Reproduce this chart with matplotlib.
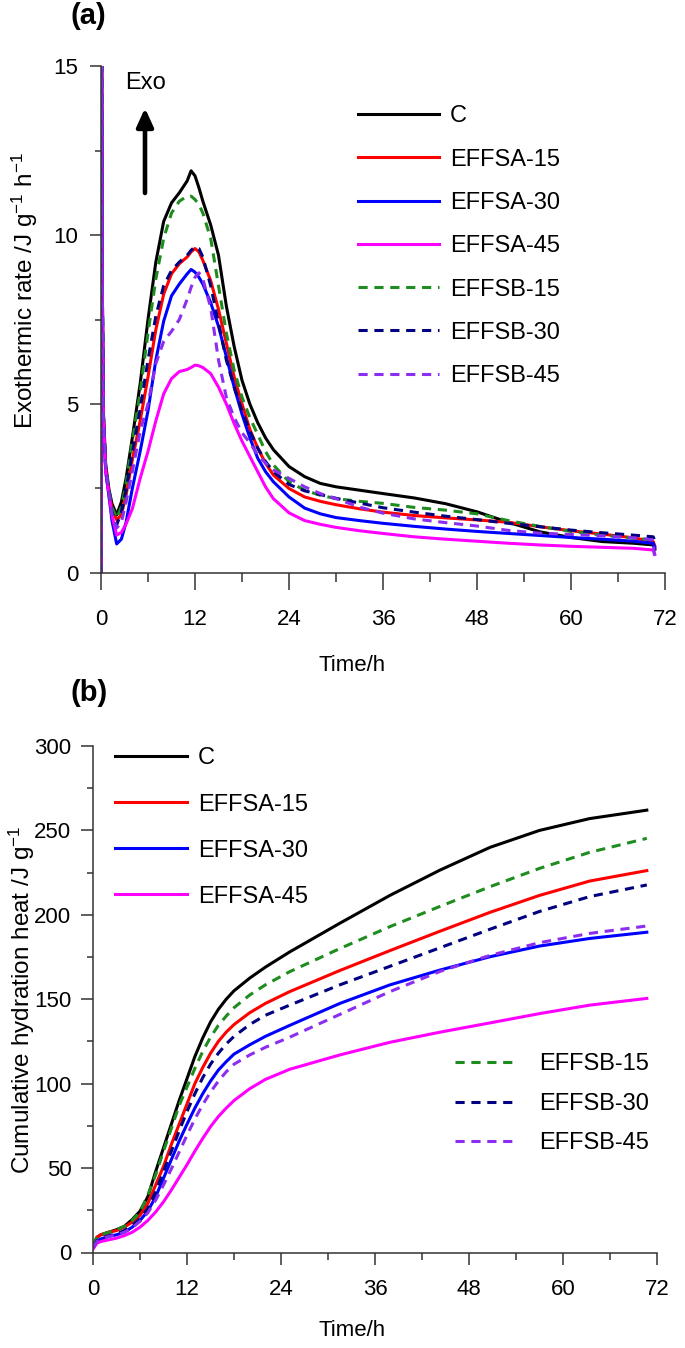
import matplotlib
matplotlib.use("Agg")
import matplotlib.pyplot as plt
from matplotlib.ticker import MultipleLocator

plt.rcParams['font.family'] = ['Liberation Sans', 'DejaVu Sans']
plt.rcParams['mathtext.fontset'] = 'custom'
plt.rcParams['mathtext.rm'] = 'Liberation Sans'
plt.rcParams['mathtext.it'] = 'Liberation Sans:italic'
plt.rcParams['mathtext.default'] = 'regular'

labels = ['C', 'EFFSA-15', 'EFFSA-30', 'EFFSA-45', 'EFFSB-15', 'EFFSB-30', 'EFFSB-45']
colors = ['black', '#ff0000', '#0000ff', '#ff00ff', '#1e8c1e', '#000080', '#8c2ef0']
styles = ['-', '-', '-', '-', '--', '--', '--']

# (a) exothermic rate, J/(g h)
time_a = [0, 0.05, 0.15, 0.3, 0.6, 1.0, 1.4, 2.0, 2.6, 3.2,
          4, 5, 6, 7, 8, 9, 10, 11, 11.5, 12,
          12.5, 13, 14, 15, 16, 17, 18, 19, 20, 21,
          22, 24, 26, 28, 30, 33, 36, 40, 44, 48,
          52, 56, 60, 64, 68, 70.5, 70.7]
rate_c = [0, 20, 9, 4.8, 3.2, 2.5, 2.05, 1.72, 2.1, 2.8,
          4.0, 5.6, 7.5, 9.2, 10.4, 10.95, 11.25, 11.6, 11.9, 11.75,
          11.4, 11.0, 10.3, 9.4, 7.9, 6.7, 5.7, 5.0, 4.45, 4.0,
          3.65, 3.15, 2.85, 2.65, 2.55, 2.45, 2.35, 2.22, 2.05, 1.81,
          1.5, 1.22, 1.05, 0.93, 0.88, 0.83, 0.7]
rate_a15 = [0, 20, 9, 4.7, 3.1, 2.4, 1.9, 1.57, 1.72, 2.3,
            3.35, 4.5, 5.8, 7.2, 8.25, 8.85, 9.15, 9.35, 9.5, 9.6,
            9.5, 9.25, 8.65, 7.8, 6.8, 5.8, 5.0, 4.25, 3.7, 3.25,
            2.9, 2.5, 2.25, 2.12, 2.02, 1.9, 1.8, 1.7, 1.63, 1.57,
            1.5, 1.37, 1.25, 1.15, 1.04, 0.93, 0.8]
rate_a30 = [0, 20, 9, 4.6, 3.0, 2.3, 1.55, 0.86, 1.0, 1.5,
            2.5, 3.6, 4.8, 6.3, 7.45, 8.2, 8.55, 8.85, 8.98, 8.9,
            8.75, 8.55, 8.0, 7.3, 6.4, 5.5, 4.7, 4.0, 3.4, 3.0,
            2.7, 2.25, 1.92, 1.75, 1.64, 1.55, 1.47, 1.38, 1.3, 1.23,
            1.17, 1.11, 1.05, 1.0, 0.94, 0.88, 0.75]
rate_a45 = [0, 20, 9, 4.6, 3.0, 2.35, 1.7, 1.12, 1.2, 1.45,
            1.9, 2.8, 3.6, 4.5, 5.3, 5.75, 5.96, 6.02, 6.08, 6.15,
            6.13, 6.08, 5.9, 5.5, 5.0, 4.42, 3.9, 3.45, 3.0, 2.55,
            2.2, 1.78, 1.55, 1.44, 1.35, 1.25, 1.17, 1.07, 1.0, 0.94,
            0.88, 0.83, 0.79, 0.76, 0.73, 0.68, 0.55]
rate_b15 = [0, 20, 9, 4.7, 3.1, 2.45, 1.95, 1.62, 1.95, 2.65,
            3.9, 5.35, 7.1, 8.7, 9.9, 10.65, 11.0, 11.15, 11.15, 11.05,
            10.9, 10.65, 9.9, 8.5, 7.1, 6.0, 5.2, 4.6, 4.1, 3.6,
            3.2, 2.7, 2.45, 2.3, 2.2, 2.12, 2.06, 1.94, 1.86, 1.75,
            1.55, 1.38, 1.23, 1.12, 1.03, 0.98, 0.85]
rate_b30 = [0, 20, 9, 4.7, 3.1, 2.4, 1.8, 1.42, 1.8, 2.45,
            3.55, 4.85, 6.3, 7.6, 8.5, 8.95, 9.2, 9.4, 9.55, 9.65,
            9.6, 9.35, 8.5, 7.4, 6.3, 5.5, 4.8, 4.2, 3.7, 3.3,
            3.0, 2.62, 2.43, 2.32, 2.21, 2.07, 1.93, 1.8, 1.68, 1.58,
            1.47, 1.37, 1.27, 1.19, 1.12, 1.07, 0.95]
rate_b45 = [0, 20, 9, 4.7, 3.1, 2.4, 1.75, 1.33, 1.5, 2.1,
            3.0, 4.2, 5.0, 6.2, 6.85, 7.15, 7.5, 8.1, 8.45, 8.75,
            8.88, 8.7, 7.85, 6.3, 5.2, 4.6, 4.15, 3.85, 3.5, 3.25,
            3.05, 2.8, 2.55, 2.35, 2.2, 1.95, 1.77, 1.6, 1.49, 1.39,
            1.26, 1.18, 1.14, 1.1, 1.04, 0.98, 0.33]

# (b) cumulative hydration heat, J/g
time_b = [0, 0.5, 1, 2, 3, 4, 5, 6, 7, 8, 9, 10, 11, 12, 13, 14, 15, 16, 17, 18,
          20, 22, 25.1, 31.5, 37.9, 44.3, 50.7, 57.0, 63.4, 70.7]
heat_c = [4, 9, 10.5, 12, 13.5, 15.5, 19.5, 24.5, 33, 48, 62, 76, 90, 103, 116, 127, 136.5, 144, 150, 155,
          162.5, 169, 178, 195, 211.5, 226.5, 240, 250, 257, 262]
heat_a15 = [4, 9, 10.5, 12, 13, 15, 18, 22, 29, 40, 51, 64, 76, 88, 100, 109.5, 118, 125, 130.5, 135,
            142, 147.5, 154.5, 167, 178.8, 190.3, 201.5, 211.5, 220, 226.2]
heat_a30 = [3, 7, 8, 9.5, 10.5, 12, 15, 19, 24.5, 33, 44, 55, 66, 76, 85.5, 94, 101.5, 108, 113, 117.5,
            123, 128, 134.5, 147.5, 158.5, 167.3, 175.2, 181.5, 186, 189.7]
heat_a45 = [2, 5.5, 6.5, 7.5, 8.5, 10, 12, 15, 19, 24, 30, 37, 44.5, 52, 60, 67.5, 74.5, 80.5, 85.5, 90,
            97, 102.5, 108.5, 117, 124.5, 130.5, 136, 141.5, 146.5, 150.5]
heat_b15 = [4, 9, 10.5, 12, 13.5, 15.5, 19, 24, 34, 46, 60, 73.5, 87, 98, 109, 119, 127.5, 134.5, 140, 145,
            152.5, 158.5, 166.3, 180, 193, 205, 216.7, 227.5, 237, 245.3]
heat_b30 = [3, 7, 8.5, 10, 11, 13, 16, 20, 26, 36, 48, 60, 72, 83.5, 94, 103.5, 111.5, 118, 123.5, 128,
            135, 140.5, 146.5, 158.5, 169.5, 180.5, 191.5, 202, 210.8, 217.7]
heat_b45 = [3, 6.5, 8, 9.5, 10.5, 12, 14.5, 18.5, 23.5, 31, 40, 49.5, 59.5, 69.5, 79, 87.5, 95, 101.5, 107, 111.5,
            117, 121.5, 127.5, 141, 154.5, 166.5, 176, 183.5, 189, 193.4]

rates = [rate_c, rate_a15, rate_a30, rate_a45, rate_b15, rate_b30, rate_b45]
heats = [heat_c, heat_a15, heat_a30, heat_a45, heat_b15, heat_b30, heat_b45]

W, H = 685, 1348
fig = plt.figure(figsize=(W / 100, H / 100), dpi=100)
fs = 16
lfs = 17
yfs = 17.5


def style_axes(ax, xlen, xminlen, ylen, yminlen, xpad, ypad):
    for s in ['top', 'right']:
        ax.spines[s].set_visible(False)
    for s in ['left', 'bottom']:
        ax.spines[s].set_linewidth(1.1)
        ax.spines[s].set_color('#333333')
    ax.set_xlim(0, 72)
    ax.xaxis.set_major_locator(MultipleLocator(12))
    ax.xaxis.set_minor_locator(MultipleLocator(6))
    ax.tick_params(axis='x', which='major', length=xlen, width=1.1, color='#333333',
                   labelsize=fs, pad=xpad)
    ax.tick_params(axis='x', which='minor', length=xminlen, width=1.1, color='#333333')
    ax.tick_params(axis='y', which='major', length=ylen, width=1.1, color='#333333',
                   labelsize=fs, pad=ypad)
    ax.tick_params(axis='y', which='minor', length=yminlen, width=1.1, color='#333333')


# panel (a)
ax1 = fig.add_axes([101 / W, 1 - 573 / H, 564 / W, 507 / H])
lines_a = []
for vals, c, ls, lab in zip(rates, colors, styles, labels):
    ln, = ax1.plot(time_a, vals, color=c, lw=2.2, ls=ls, label=lab)
    if ls == '--':
        ln.set_dashes((3, 2.2))
    lines_a.append(ln)
ax1.set_ylim(0, 15)
ax1.yaxis.set_major_locator(MultipleLocator(5))
ax1.yaxis.set_minor_locator(MultipleLocator(2.5))
style_axes(ax1, 12.5, 6.5, 8, 4.3, 13.5, 8.5)
ax1.set_xlabel('Time/h', fontsize=fs)
ax1.xaxis.set_label_coords((352 - 101) / 564, (573 - 655) / 507)
ax1.set_ylabel(r'Exothermic rate /J g$^{-1}$ h$^{-1}$', fontsize=yfs)
ax1.yaxis.set_label_coords((40 - 101) / 564, 0.558)

ax1.annotate('', xy=(0.078, 0.917), xytext=(0.078, 0.7495),
             xycoords='axes fraction', textcoords='axes fraction',
             arrowprops=dict(arrowstyle='-|>,head_length=0.55,head_width=0.25',
                             lw=3.3, color='black', mutation_scale=20,
                             shrinkA=0, shrinkB=0))
ax1.text(0.0426, 0.966, 'Exo', transform=ax1.transAxes, fontsize=lfs,
         ha='left', va='center')

fig.legend(handles=lines_a, loc='upper left',
           bbox_to_anchor=(358 / W, 1 - 105.5 / H), bbox_transform=fig.transFigure,
           frameon=False, fontsize=lfs, handlelength=3.43, handletextpad=0.47,
           labelspacing=0.9, borderpad=0, borderaxespad=0)

# panel (b)
ax2 = fig.add_axes([93 / W, 1 - 1252.5 / H, 564 / W, 506.5 / H])
lines_b = []
for vals, c, ls, lab in zip(heats, colors, styles, labels):
    ln, = ax2.plot(time_b, vals, color=c, lw=2.2, ls=ls, label=lab)
    if ls == '--':
        ln.set_dashes((3, 2.2))
    lines_b.append(ln)
ax2.set_ylim(0, 300)
ax2.yaxis.set_major_locator(MultipleLocator(50))
ax2.yaxis.set_minor_locator(MultipleLocator(25))
style_axes(ax2, 8.5, 5, 8.5, 4.3, 10.5, 7)
ax2.set_xlabel('Time/h', fontsize=fs)
ax2.xaxis.set_label_coords((352 - 93) / 564, (1252.5 - 1320) / 506.5)
ax2.set_ylabel(r'Cumulative hydration heat /J g$^{-1}$', fontsize=yfs)
ax2.yaxis.set_label_coords((37 - 93) / 564, 0.498)

fig.legend(handles=lines_b[:4], loc='upper left',
           bbox_to_anchor=(115 / W, 1 - 747.5 / H), bbox_transform=fig.transFigure,
           frameon=False, fontsize=lfs, handlelength=3.05, handletextpad=0.47,
           labelspacing=1.02, borderpad=0, borderaxespad=0)
fig.legend(handles=lines_b[4:], loc='upper left',
           bbox_to_anchor=(455 / W, 1 - 1053.5 / H), bbox_transform=fig.transFigure,
           frameon=False, fontsize=lfs, handlelength=2.67, handletextpad=0.9,
           labelspacing=0.74, borderpad=0, borderaxespad=0)

fig.text(70 / W, 1 - 16 / H, '(a)', fontsize=21, fontweight='bold', va='center')
fig.text(70 / W, 1 - 693 / H, '(b)', fontsize=21, fontweight='bold', va='center')

fig.savefig('out.png', dpi=100, facecolor='white')
